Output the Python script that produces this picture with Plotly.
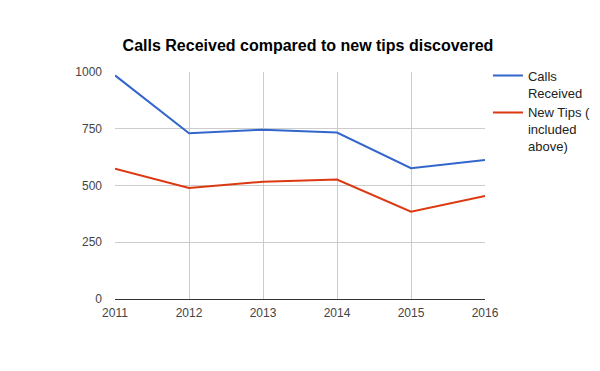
import plotly.graph_objects as go

years = [2011, 2012, 2013, 2014, 2015, 2016]
calls_received = [985, 730, 746, 733, 576, 612]
new_tips = [574, 489, 517, 526, 385, 454]
series_names = ["Calls<br>Received", "New Tips (<br>included<br>above)"]

fig = go.Figure()
fig.add_trace(go.Scatter(x=years, y=calls_received, mode="lines", name=series_names[0],
                         line=dict(color="#3366cc", width=2)))
fig.add_trace(go.Scatter(x=years, y=new_tips, mode="lines", name=series_names[1],
                         line=dict(color="#dc3912", width=2)))

fig.update_layout(
    width=600, height=371,
    margin=dict(l=107, r=123, t=64, b=80, autoexpand=False),
    paper_bgcolor="white", plot_bgcolor="white",
    font=dict(family="Liberation Sans, Arial, sans-serif", size=12, color="#444444"),
    title=dict(text="<b>Calls Received compared to new tips discovered</b>",
               x=0.5, xanchor="center", y=0.900, yanchor="middle",
               font=dict(size=16, color="#000000")),
    showlegend=True,
    legend=dict(x=1.008, y=1.05, xanchor="left", yanchor="top", valign="top",
                font=dict(size=13, color="#222222"), tracegroupgap=3,
                itemwidth=30, bgcolor="rgba(0,0,0,0)"),
    xaxis=dict(range=[2011, 2016], tickvals=years, ticktext=[str(y) for y in years],
               showgrid=True, gridcolor="#cccccc", gridwidth=1, zeroline=False,
               showline=True, linecolor="#333333", linewidth=1, ticks="", ticklen=0,
               ticklabelstandoff=3,
               tickfont=dict(size=12, color="#444444")),
    yaxis=dict(range=[0, 1000], tickvals=[0, 250, 500, 750, 1000],
               showgrid=True, gridcolor="#cccccc", gridwidth=1, zeroline=False,
               showline=False, ticks="", ticklabelstandoff=12,
               tickfont=dict(size=12, color="#444444")),
)

fig.write_html("out.html")
